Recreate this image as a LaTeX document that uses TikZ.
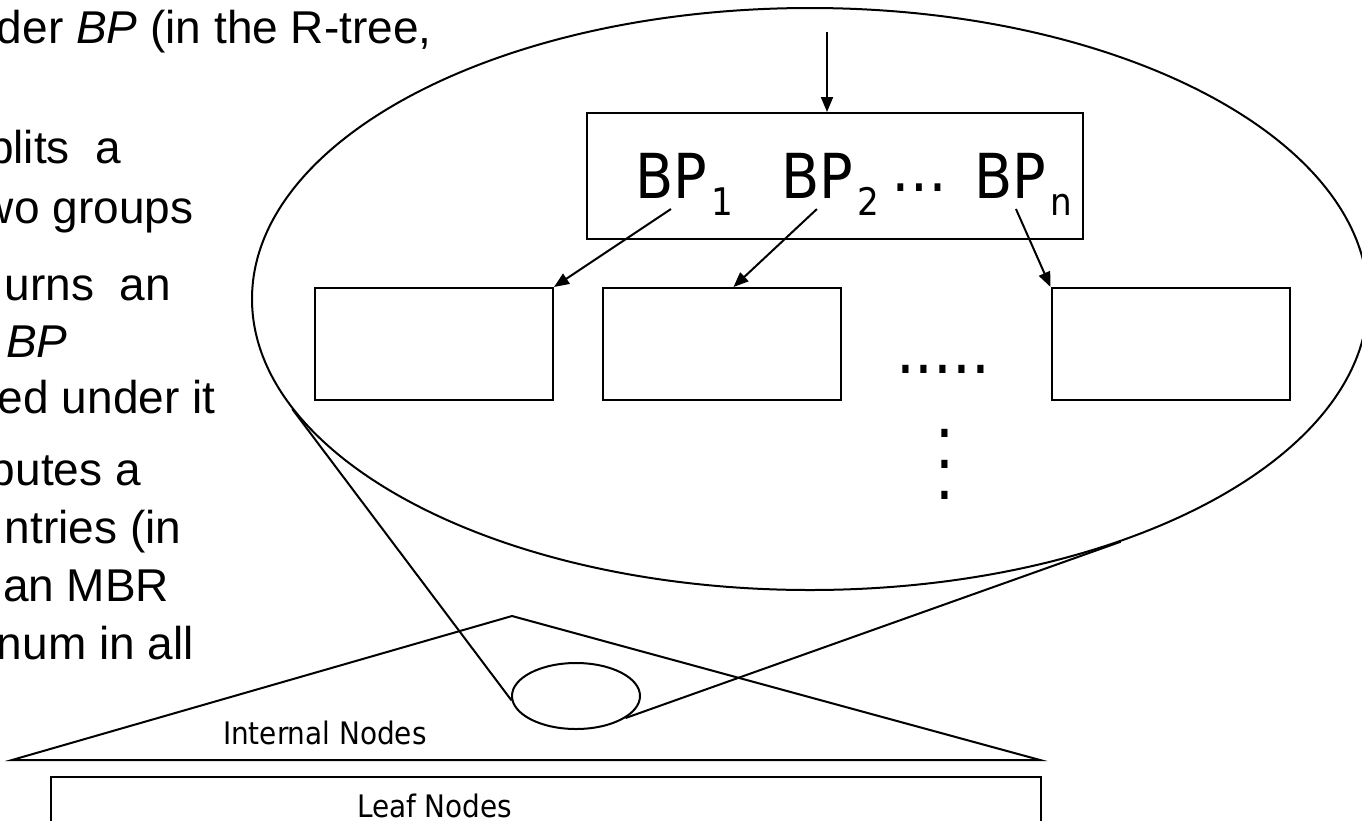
\documentclass[tikz,border=0pt]{standalone}
\usepackage{fontspec}
\setmainfont{Liberation Sans}
\newfontfamily\slidefont{DejaVu Sans Condensed}
\usetikzlibrary{arrows.meta,shapes.geometric,calc}

\tikzset{
  txt/.style={anchor=base west, inner sep=0pt, font=\fontsize{46}{46}\selectfont},
  bp/.style={anchor=base west, inner sep=0pt, font=\slidefont\fontsize{62}{62}\selectfont},
  sub/.style={anchor=base west, inner sep=0pt, font=\slidefont\fontsize{38}{38}\selectfont},
  lbl/.style={anchor=base west, inner sep=0pt, font=\slidefont\fontsize{31}{31}\selectfont},
  kid/.style={draw, rectangle, inner sep=0pt, minimum width=238pt, minimum height=112pt},
  ptr/.style={-{Triangle[length=15pt,width=12pt]}},
}

\begin{document}
\begin{tikzpicture}[x=1pt, y=-1pt, line width=2pt]
    \clip (0,0) rectangle (1362,820);

    % bullet text running off the left edge
    \node[txt] (t1) at (-4,43) {der \textit{BP} (in the R-tree,};
    \node[txt] (t2) at (-13,163) {plits\ \ a};
    \node[txt] (t3) at (-20,223) {wo groups};
    \node[txt] (t4) at (4,300) {urns\ \ an};
    \node[txt] (t5) at (5,357) {\textit{BP}};
    \node[txt] (t6) at (-3,413) {ed under it};
    \node[txt] (t7) at (-11,485) {putes a};
    \node[txt] (t8) at (4,543) {ntries (in};
    \node[txt] (t9) at (2,601) {an MBR};
    \node[txt] (t10) at (-4,659) {num in all};

    % magnified part of the tree
    \node[ellipse, draw, inner sep=0pt, minimum width=1116pt, minimum height=582pt] (zoom) at (810,299) {};

    \node[draw, inner sep=0pt, minimum width=496pt, minimum height=126pt] (parent) at (835,176) {};
    \coordinate (feed) at (827,32);
    \draw[ptr] (feed) -- (feed |- parent.north);

    \node[bp] (bp1) at (634,198) {BP};
    \node[sub] (s1) at ([xshift=3pt,yshift=-17pt]bp1.base east) {1};
    \node[bp] (bp2) at (780,198) {BP};
    \node[sub] (s2) at ([xshift=3pt,yshift=-17pt]bp2.base east) {2};
    \node[bp] (more) at (890,191) {…};
    \node[bp] (bpn) at (973,198) {BP};
    \node[sub] (sn) at ([xshift=3pt,yshift=-17pt]bpn.base east) {n};

    \node[kid] (kid1) at (434,344) {};
    \node[kid] (kid2) at (721.5,344) {};
    \node[kid] (kid3) at (1170.5,344) {};

    \draw[ptr] ([yshift=-10pt]bp1.south) -- (kid1.north east);
    \draw[ptr] ([yshift=-10pt]bp2.south) -- ($(kid2.north west)!0.55!(kid2.north east)$);
    \draw[ptr] ([xshift=6pt,yshift=-10pt]bpn.south) -- (kid3.north west);

    \node[bp, font=\slidefont\fontsize{66}{66}\selectfont] (gap) at (895,373) {.....};
    \node[inner sep=0pt, align=center, font=\slidefont\fontsize{66}{31}\selectfont] (vgap) at (945,464) {.\\.\\.};

    % the whole tree
    \coordinate (apex) at (512,616);
    \coordinate (bl) at (12,760);
    \coordinate (br) at (1040,760);
    \draw (bl) -- (apex) -- (br) -- cycle;
    \node[ellipse, draw, inner sep=0pt, minimum width=128pt, minimum height=66pt] (spot) at (576,696) {};
    \draw (zoom.192) -- (spot.184);
    \draw (zoom.322) -- (spot.336);

    \node[draw, inner sep=0pt, minimum width=990pt, minimum height=60pt, anchor=north west] (leaves) at (50,776) {};
    \node[lbl] (inner) at (222,744) {Internal Nodes};
    \node[lbl] (leaf) at (356,817) {Leaf Nodes};
\end{tikzpicture}
\end{document}
